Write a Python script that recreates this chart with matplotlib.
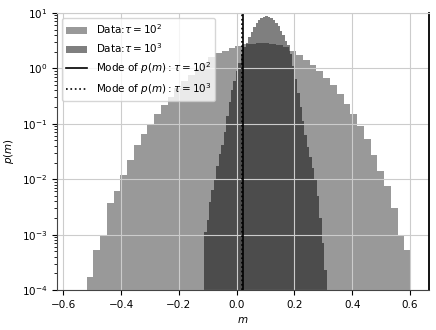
import matplotlib
matplotlib.use("Agg")
import matplotlib.pyplot as plt
import numpy as np

# Histogram densities (log y axis)
tau2_range = (-0.520, 0.604)
tau2_density = [
    1.7e-4, 5.2e-4, 1.0e-3, 3.7e-3, 6.0e-3, 0.012, 0.022, 0.041,
    0.065, 0.10, 0.148, 0.214, 0.31, 0.45, 0.59, 0.75,
    0.98, 1.26, 1.58, 1.86, 2.04, 2.34, 2.57, 2.69,
    2.75, 2.82, 2.82, 2.75, 2.63, 2.45, 2.04, 1.71,
    1.39, 1.13, 0.89, 0.68, 0.49, 0.35, 0.23, 0.15,
    0.091, 0.054, 0.027, 0.014, 7.4e-3, 3.0e-3, 1.0e-3, 5.2e-4,
]

tau3_range = (-0.113, 0.311)
tau3_density = [
    1.1e-3, 1.8e-3, 3.9e-3, 6.3e-3, 0.010, 0.017, 0.028, 0.042,
    0.071, 0.14, 0.25, 0.40, 0.60, 0.89, 1.26, 1.78,
    2.4, 2.88, 3.63, 4.57, 5.62, 6.61, 7.41, 8.13,
    8.51, 8.61, 8.51, 8.13, 7.41, 6.61, 5.75, 4.79,
    3.98, 3.16, 2.63, 1.78, 1.12, 0.63, 0.355, 0.20,
    0.112, 0.063, 0.038, 0.025, 0.016, 0.010, 5.0e-3, 2.0e-3,
    7.1e-4, 2.3e-4,
]

mode_tau2 = 0.022
mode_tau3 = 0.020

FS = 7.5

fig = plt.figure(figsize=(4.36, 3.30), dpi=100)
ax = fig.add_axes([0.131, 0.121, 0.853, 0.840])

edges2 = np.linspace(tau2_range[0], tau2_range[1], len(tau2_density) + 1)
edges3 = np.linspace(tau3_range[0], tau3_range[1], len(tau3_density) + 1)

ax.stairs(tau2_density, edges2, fill=True, color="k", alpha=0.4,
          linewidth=0, label=r"Data:$\tau=10^2$")
ax.stairs(tau3_density, edges3, fill=True, color="k", alpha=0.5,
          linewidth=0, label=r"Data:$\tau=10^3$")

ax.axvline(mode_tau2, color="k", linestyle="-", linewidth=1.2,
           label=r"Mode of $p(m):\tau=10^2$")
ax.axvline(mode_tau3, color="k", linestyle=":", linewidth=1.2,
           label=r"Mode of $p(m):\tau=10^3$")

ax.set_yscale("log")
ax.set_ylim(1e-4, 1e1)
ax.set_xlim(-0.622, 0.666)
ax.set_xticks(np.arange(-0.6, 0.61, 0.2))

# grid sits above the filled histograms, as in the reference
ax.grid(True, which="major", color="#cccccc", linewidth=0.8)

ax.set_xlabel(r"$m$", fontsize=FS)
ax.set_ylabel(r"$p(m)$", fontsize=FS)
ax.tick_params(axis="both", which="major", labelsize=FS, length=3.5)
ax.tick_params(axis="y", which="minor", length=2)

ax.spines["top"].set_color("#cccccc")
ax.spines["left"].set_color("#444444")
ax.spines["bottom"].set_color("#444444")
ax.spines["right"].set_color("black")
ax.spines["right"].set_linewidth(1.3)

ax.legend(loc="upper left", fontsize=FS, framealpha=0.8)

fig.savefig("out.png", dpi=100)
